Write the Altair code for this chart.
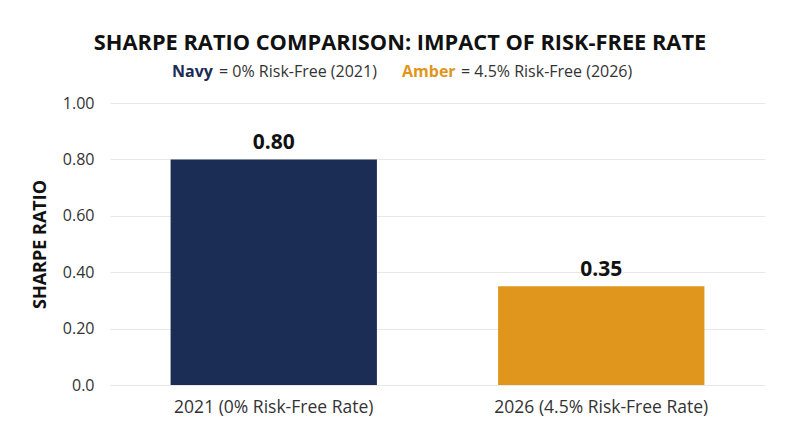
import altair as alt
import pandas as pd

categories = ["2021 (0% Risk-Free Rate)", "2026 (4.5% Risk-Free Rate)"]
sharpe = [0.80, 0.35]
value_labels = ["0.80", "0.35"]
bar_colors = ["#1B2D55", "#E0961C"]
y_ticks = [0.0, 0.2, 0.4, 0.6, 0.8, 1.0]

title_text = "SHARPE RATIO COMPARISON: IMPACT OF RISK-FREE RATE"
sub_parts = ["Navy", "= 0% Risk-Free (2021)", "Amber", "= 4.5% Risk-Free (2026)"]
sub_colors = ["#1B2D55", "#333333", "#E0961C", "#333333"]
sub_weights = ["bold", "normal", "bold", "normal"]
sub_x = [62, 109, 292, 351]

FONT = "Open Sans"

df = pd.DataFrame({"cat": categories, "v": sharpe, "lab": value_labels})

base = alt.Chart(df)

bars = base.mark_bar().encode(
    x=alt.X(
        "cat:N",
        sort=categories,
        scale=alt.Scale(paddingInner=0.37, paddingOuter=0.185),
        axis=alt.Axis(
            title=None, labelAngle=0, labelFontSize=17.5, labelColor="#333333",
            labelFont=FONT, domain=False, ticks=False, labelPadding=13, grid=False,
            labelLimit=400,
        ),
    ),
    y=alt.Y(
        "v:Q",
        scale=alt.Scale(domain=[0, 1]),
        axis=alt.Axis(
            values=y_ticks,
            labelExpr="datum.value == 0 ? '0.0' : format(datum.value, '.2f')",
            title="SHARPE RATIO", titleFont=FONT, titleFontSize=18, titleFontWeight="bold",
            titleColor="#111111", titlePadding=13,
            labelFont=FONT, labelFontSize=16, labelColor="#333333", labelPadding=16,
            domain=False, ticks=False, grid=True, gridColor="#E8E8E8",
        ),
    ),
    color=alt.Color("cat:N", scale=alt.Scale(domain=categories, range=bar_colors), legend=None),
)

vals = base.mark_text(font=FONT, fontSize=21, fontWeight="bold", color="#111111", dy=-10, baseline="alphabetic").encode(
    x=alt.X("cat:N", sort=categories),
    y="v:Q",
    text="lab:N",
)

title = alt.Chart(pd.DataFrame({"t": [title_text]})).mark_text(
    font=FONT, fontSize=21.8, fontWeight="bold", color="#111111", align="center", baseline="alphabetic"
).encode(x=alt.value(290), y=alt.value(-53), text="t:N")

layers = [bars, vals, title]
for txt, col, wt, xx in zip(sub_parts, sub_colors, sub_weights, sub_x):
    layers.append(
        alt.Chart(pd.DataFrame({"t": [txt]})).mark_text(
            font=FONT, fontSize=16, fontWeight=wt, color=col, align="left", baseline="alphabetic"
        ).encode(x=alt.value(xx), y=alt.value(-26), text="t:N")
    )

chart = alt.layer(*layers).properties(
    width=655, height=282,
    autosize="none",
    padding={"left": 102, "top": 95, "right": 20, "bottom": 40},
    background="white",
).configure_view(stroke=None)

chart.save("out.html", embed_options={"renderer": "svg", "actions": False})
